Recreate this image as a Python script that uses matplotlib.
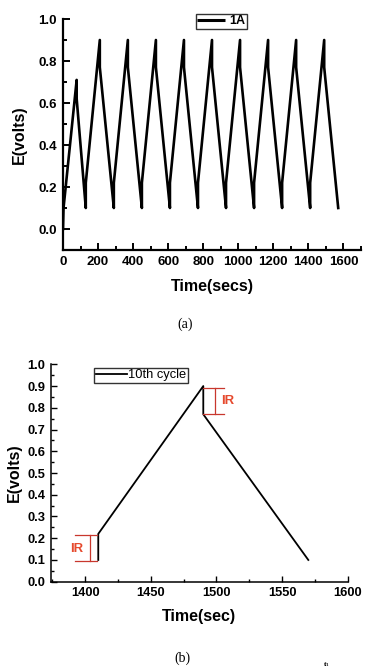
import matplotlib
matplotlib.use("Agg")
import matplotlib.pyplot as plt
from matplotlib.ticker import MultipleLocator, FormatStrFormatter

# ---- data: panel (a), 1A cycling ----
time_a = [0, 3, 78, 78, 130, 130, 210, 210, 290, 290, 370, 370, 450, 450,
          530, 530, 610, 610, 690, 690, 770, 770, 850, 850, 930, 930,
          1010, 1010, 1090, 1090, 1170, 1170, 1250, 1250, 1330, 1330,
          1410, 1410, 1490, 1490, 1570]
volt_a = [0.0, 0.1, 0.71, 0.62, 0.1, 0.22, 0.9, 0.77, 0.1, 0.22, 0.9, 0.77,
          0.1, 0.22, 0.9, 0.77, 0.1, 0.22, 0.9, 0.77, 0.1, 0.22, 0.9, 0.77,
          0.1, 0.22, 0.9, 0.77, 0.1, 0.22, 0.9, 0.77, 0.1, 0.22, 0.9, 0.77,
          0.1, 0.22, 0.9, 0.77, 0.1]

# ---- data: panel (b), 10th cycle ----
time_b = [1410, 1410, 1490, 1490, 1570]
volt_b = [0.1, 0.22, 0.9, 0.77, 0.1]

# IR brackets (x span, x of vertical, y low, y high)
ir_top = dict(x0=1490, x1=1506, xv=1499, ylo=0.77, yhi=0.89, tx=1503.5, ty=0.83)
ir_bot = dict(x0=1392, x1=1409, xv=1404, ylo=0.095, yhi=0.215, tx=1388.5, ty=0.152)

xticks_a = [0, 200, 400, 600, 800, 1000, 1200, 1400, 1600]
yticks_a = [0.0, 0.2, 0.4, 0.6, 0.8, 1.0]
xticks_b = [1400, 1450, 1500, 1550, 1600]
yticks_b = [0.0, 0.1, 0.2, 0.3, 0.4, 0.5, 0.6, 0.7, 0.8, 0.9, 1.0]

plt.rcParams['font.family'] = ['Liberation Sans', 'DejaVu Sans']

W, H = 375, 669
fig = plt.figure(figsize=(W / 100, H / 100), dpi=100)

def frac(l, t, r, b):
    return [l / W, 1 - b / H, (r - l) / W, (b - t) / H]

# ---------- panel (a) ----------
ax1 = fig.add_axes(frac(63, 19, 361, 250))
ax1.plot(time_a, volt_a, color='black', lw=1.9, label='1A')
ax1.set_xlim(0, 1700)
ax1.set_ylim(-0.1, 1.0)
ax1.set_xticks(xticks_a)
ax1.set_yticks(yticks_a)
ax1.xaxis.set_minor_locator(MultipleLocator(100))
ax1.yaxis.set_minor_locator(MultipleLocator(0.1))
ax1.yaxis.set_major_formatter(FormatStrFormatter('%.1f'))
for s in ['top', 'right']:
    ax1.spines[s].set_visible(False)
for s in ['left', 'bottom']:
    ax1.spines[s].set_linewidth(1.6)
ax1.tick_params(which='major', direction='in', length=5, width=1.4,
                labelsize=9.5, pad=4.5)
ax1.tick_params(which='minor', direction='in', length=2.6, width=1.4)
for lab in ax1.get_xticklabels() + ax1.get_yticklabels():
    lab.set_fontweight('bold')
ax1.set_xlabel('Time(secs)', fontsize=11.5, fontweight='bold', labelpad=8)
ax1.set_ylabel('E(volts)', fontsize=11.5, fontweight='bold', labelpad=8)
leg1 = ax1.legend(loc='upper left', bbox_to_anchor=(196 / W, 1 - 13.5 / H),
                  bbox_transform=fig.transFigure, frameon=True, fancybox=False,
                  edgecolor='black', borderpad=0.12, handlelength=2.2,
                  handletextpad=0.35, borderaxespad=0,
                  prop=dict(size=9, weight='bold'))
leg1.get_frame().set_linewidth(1.0)
leg1.get_lines()[0].set_linewidth(2.2)
leg1.get_lines()[0].set_solid_capstyle('butt')

fig.text(185 / W, 1 - 324 / H, '(a)', family=['Liberation Serif', 'DejaVu Serif'],
         fontsize=10, ha='center', va='center')

# ---------- panel (b) ----------
ax2 = fig.add_axes(frac(51, 364.3, 347.7, 581.7))
ax2.plot(time_b, volt_b, color='black', lw=1.3, label='10th cycle')
ax2.set_xlim(1374, 1600)
ax2.set_ylim(0.0, 1.0)
ax2.set_xticks(xticks_b)
ax2.set_yticks(yticks_b)
ax2.xaxis.set_minor_locator(MultipleLocator(25))
ax2.yaxis.set_minor_locator(MultipleLocator(0.05))
ax2.yaxis.set_major_formatter(FormatStrFormatter('%.1f'))
for s in ['top', 'right']:
    ax2.spines[s].set_visible(False)
for s in ['left', 'bottom']:
    ax2.spines[s].set_linewidth(1.1)
ax2.tick_params(which='major', direction='in', length=4.5, width=1.0,
                labelsize=9.3, pad=4.0)
ax2.tick_params(which='minor', direction='in', length=2.3, width=1.0)
for lab in ax2.get_xticklabels() + ax2.get_yticklabels():
    lab.set_fontweight('bold')
ax2.set_xlabel('Time(sec)', fontsize=11.5, fontweight='bold', labelpad=7)
ax2.set_ylabel('E(volts)', fontsize=11.5, fontweight='bold', labelpad=4)

red_line = '#c8372d'
red_text = '#e64a2e'
for ir in (ir_top, ir_bot):
    ax2.plot([ir['x0'], ir['x1']], [ir['yhi'], ir['yhi']], color=red_line, lw=0.9)
    ax2.plot([ir['x0'], ir['x1']], [ir['ylo'], ir['ylo']], color=red_line, lw=0.9)
    ax2.plot([ir['xv'], ir['xv']], [ir['ylo'], ir['yhi']], color=red_line, lw=0.9)
    ax2.text(ir['tx'], ir['ty'], 'IR', color=red_text, fontsize=9.5,
             fontweight='bold', ha='left', va='center')

leg2 = ax2.legend(handles=[ax2.get_lines()[0]], loc='upper left',
                  bbox_to_anchor=(94 / W, 1 - 367.5 / H),
                  bbox_transform=fig.transFigure, frameon=True, fancybox=False,
                  edgecolor='black', borderpad=0.12, handlelength=2.4,
                  handletextpad=0.15, borderaxespad=0, prop=dict(size=9.3))
leg2.get_frame().set_linewidth(1.0)

fig.text(182 / W, 1 - 658 / H, '(b)', family=['Liberation Serif', 'DejaVu Serif'],
         fontsize=10, ha='center', va='center')
fig.text(327 / W, 1 - 664 / H, 'th', family=['Liberation Serif', 'DejaVu Serif'],
         fontsize=5, ha='center', va='center')

fig.savefig('out.png', dpi=100)
